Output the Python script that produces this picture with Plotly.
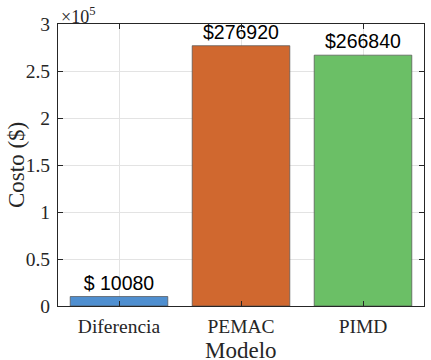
import plotly.graph_objects as go

categories = ["Diferencia", "PEMAC", "PIMD"]
costs = [10080, 276920, 266840]
labels = ["$ 10080", "$276920", "$266840"]
colors = ["#4F8FD0", "#D0682F", "#6BBF66"]
ytick_vals = [0, 50000, 100000, 150000, 200000, 250000, 300000]
ytick_text = ["0", "0.5", "1", "1.5", "2", "2.5", "3"]

serif = "'Times New Roman', 'Liberation Serif', 'DejaVu Serif', serif"
sans = "Arial, 'Liberation Sans', sans-serif"

fig = go.Figure()
fig.add_trace(go.Bar(
    x=categories, y=costs, width=0.8,
    marker=dict(color=colors, line=dict(color="#505050", width=0.7)),
    text=labels, textposition="outside", cliponaxis=False,
    textfont=dict(family=sans, size=19.5, color="black"),
))

axis_common = dict(
    showline=True, linecolor="#262626", linewidth=1, mirror="allticks",
    ticks="inside", ticklen=5, tickcolor="#262626",
    showgrid=True, gridcolor="#E3E3E3", gridwidth=1, zeroline=False,
    tickfont=dict(family=serif, size=19.5, color="#262626"),
    automargin=False,
)

title_font = dict(family=serif, size=23, color="#262626")

fig.update_layout(
    width=431, height=360,
    margin=dict(l=58, r=7, t=24, b=54),
    paper_bgcolor="white", plot_bgcolor="white",
    showlegend=False,
    font=dict(family=serif),
    xaxis=dict(range=[-0.5, 2.5], ticklabelstandoff=3, **axis_common),
    yaxis=dict(range=[0, 300000], tickvals=ytick_vals, ticktext=ytick_text, ticklabelstandoff=3,
               **axis_common),
    annotations=[
        dict(text="×10<sup>5</sup>", x=0, y=1, xref="paper", yref="paper",
             xanchor="left", yanchor="bottom", showarrow=False,
             font=dict(family=serif, size=18, color="#262626"), yshift=-5, xshift=1),
        dict(text="Modelo", x=0.5, y=0, xref="paper", yref="paper",
             xanchor="center", yanchor="middle", showarrow=False,
             font=title_font, yshift=-44),
        dict(text="Costo ($)", x=0, y=0.5, xref="paper", yref="paper", textangle=-90,
             xanchor="center", yanchor="middle", showarrow=False,
             font=title_font, xshift=-42),
    ],
)

fig.write_html("out.html", config={"displayModeBar": False},
               post_script="document.body.style.margin='0';")
